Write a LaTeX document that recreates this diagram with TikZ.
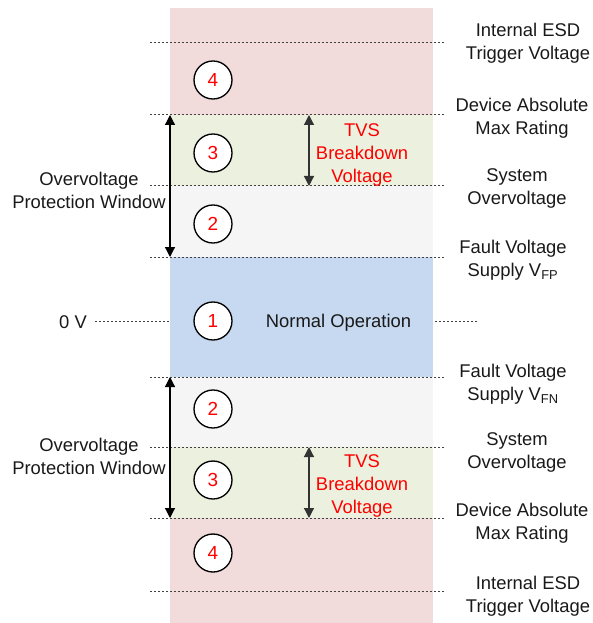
\documentclass[tikz,border=0pt]{standalone}
\usepackage{fontspec}
\setmainfont{Liberation Sans}
\usetikzlibrary{arrows.meta}
\definecolor{bandred}{RGB}{242,220,219}
\definecolor{bandgreen}{RGB}{235,241,222}
\definecolor{bandgray}{RGB}{245,245,245}
\definecolor{bandblue}{RGB}{198,217,240}
\definecolor{txtred}{RGB}{255,0,0}
\begin{document}
\begin{tikzpicture}[x=0.75pt,y=-0.75pt,
  lvl/.style={draw=black!75, line width=0.75pt, dash pattern=on 1.5pt off 1.5pt},
  num/.style={circle, draw=black, line width=1pt, fill=white, minimum size=28.5pt, inner sep=0pt, text=txtred, font=\fontsize{14.2}{17.25}\selectfont},
  lbl/.style={align=center, inner sep=0pt, font=\fontsize{13.8}{17.25}\selectfont, text=black!90},
  tvs/.style={lbl, text=txtred},
  dbl/.style={{Triangle[length=7.5pt,width=7.5pt]}-{Triangle[length=7.5pt,width=7.5pt]}, line width=0.9pt}
]
\useasboundingbox (0,0) rectangle (592,623);
% zero line behind the column
\draw[lvl] (95,321) -- (477,321);
% bands
\fill[bandred]   (170,8)   rectangle (433,115);
\fill[bandgreen] (170,115) rectangle (433,186);
\fill[bandgray]  (170,186) rectangle (433,257);
\fill[bandblue]  (170,257) rectangle (433,377);
\fill[bandgray]  (170,377) rectangle (433,447);
\fill[bandgreen] (170,447) rectangle (433,518);
\fill[bandred]   (170,518) rectangle (433,623);
% level lines
\foreach \yy in {43,115,186,257,377,447,518,591}
  \draw[lvl] (150,\yy) -- (446,\yy);
% numbered circles
\node[num] (n4t) at (213,80)  {4};
\node[num] (n3t) at (213,153) {3};
\node[num] (n2t) at (213,224) {2};
\node[num] (n1)  at (213,321) {1};
\node[num] (n2b) at (213,409) {2};
\node[num] (n3b) at (213,480) {3};
\node[num] (n4b) at (213,553) {4};
% arrow end points
\coordinate (owt1) at (170,115);
\coordinate (owt2) at (170,257);
\coordinate (owb1) at (170,377);
\coordinate (owb2) at (170,518);
\coordinate (tvt1) at (309,115);
\coordinate (tvt2) at (309,186);
\coordinate (tvb1) at (309,447);
\coordinate (tvb2) at (309,518);
\draw[dbl, black] (owt1) -- (owt2);
\draw[dbl, black] (owb1) -- (owb2);
\draw[dbl, black!80] (tvt1) -- (tvt2);
\draw[dbl, black!80] (tvb1) -- (tvb2);
% texts
\node[tvs] (tvst) at (362,155) {TVS\\Breakdown\\Voltage};
\node[tvs] (tvsb) at (362,486) {TVS\\Breakdown\\Voltage};
\node[lbl] (norm) at (338.5,323) {Normal Operation};
\node[lbl] (zero) at (73,322.5) {0 V};
\node[lbl] (owlt) at (89,190.5) {Overvoltage\\Protection Window};
\node[lbl] (owlb) at (89,456.5) {Overvoltage\\Protection Window};
\node[lbl] (esdt) at (528,43.5) {Internal ESD\\Trigger Voltage};
\node[lbl] (devt) at (522,118.5) {Device Absolute\\Max Rating};
\node[lbl] (syst) at (517,188.5) {System\\Overvoltage};
\node[lbl] (fltt) at (513,260.5) {Fault Voltage\\Supply V\textsubscript{FP}};
\node[lbl] (fltb) at (513,384.5) {Fault Voltage\\Supply V\textsubscript{FN}};
\node[lbl] (sysb) at (517,452.5) {System\\Overvoltage};
\node[lbl] (devb) at (522,523.5) {Device Absolute\\Max Rating};
\node[lbl] (esdb) at (528,596.5) {Internal ESD\\Trigger Voltage};
\end{tikzpicture}
\end{document}
